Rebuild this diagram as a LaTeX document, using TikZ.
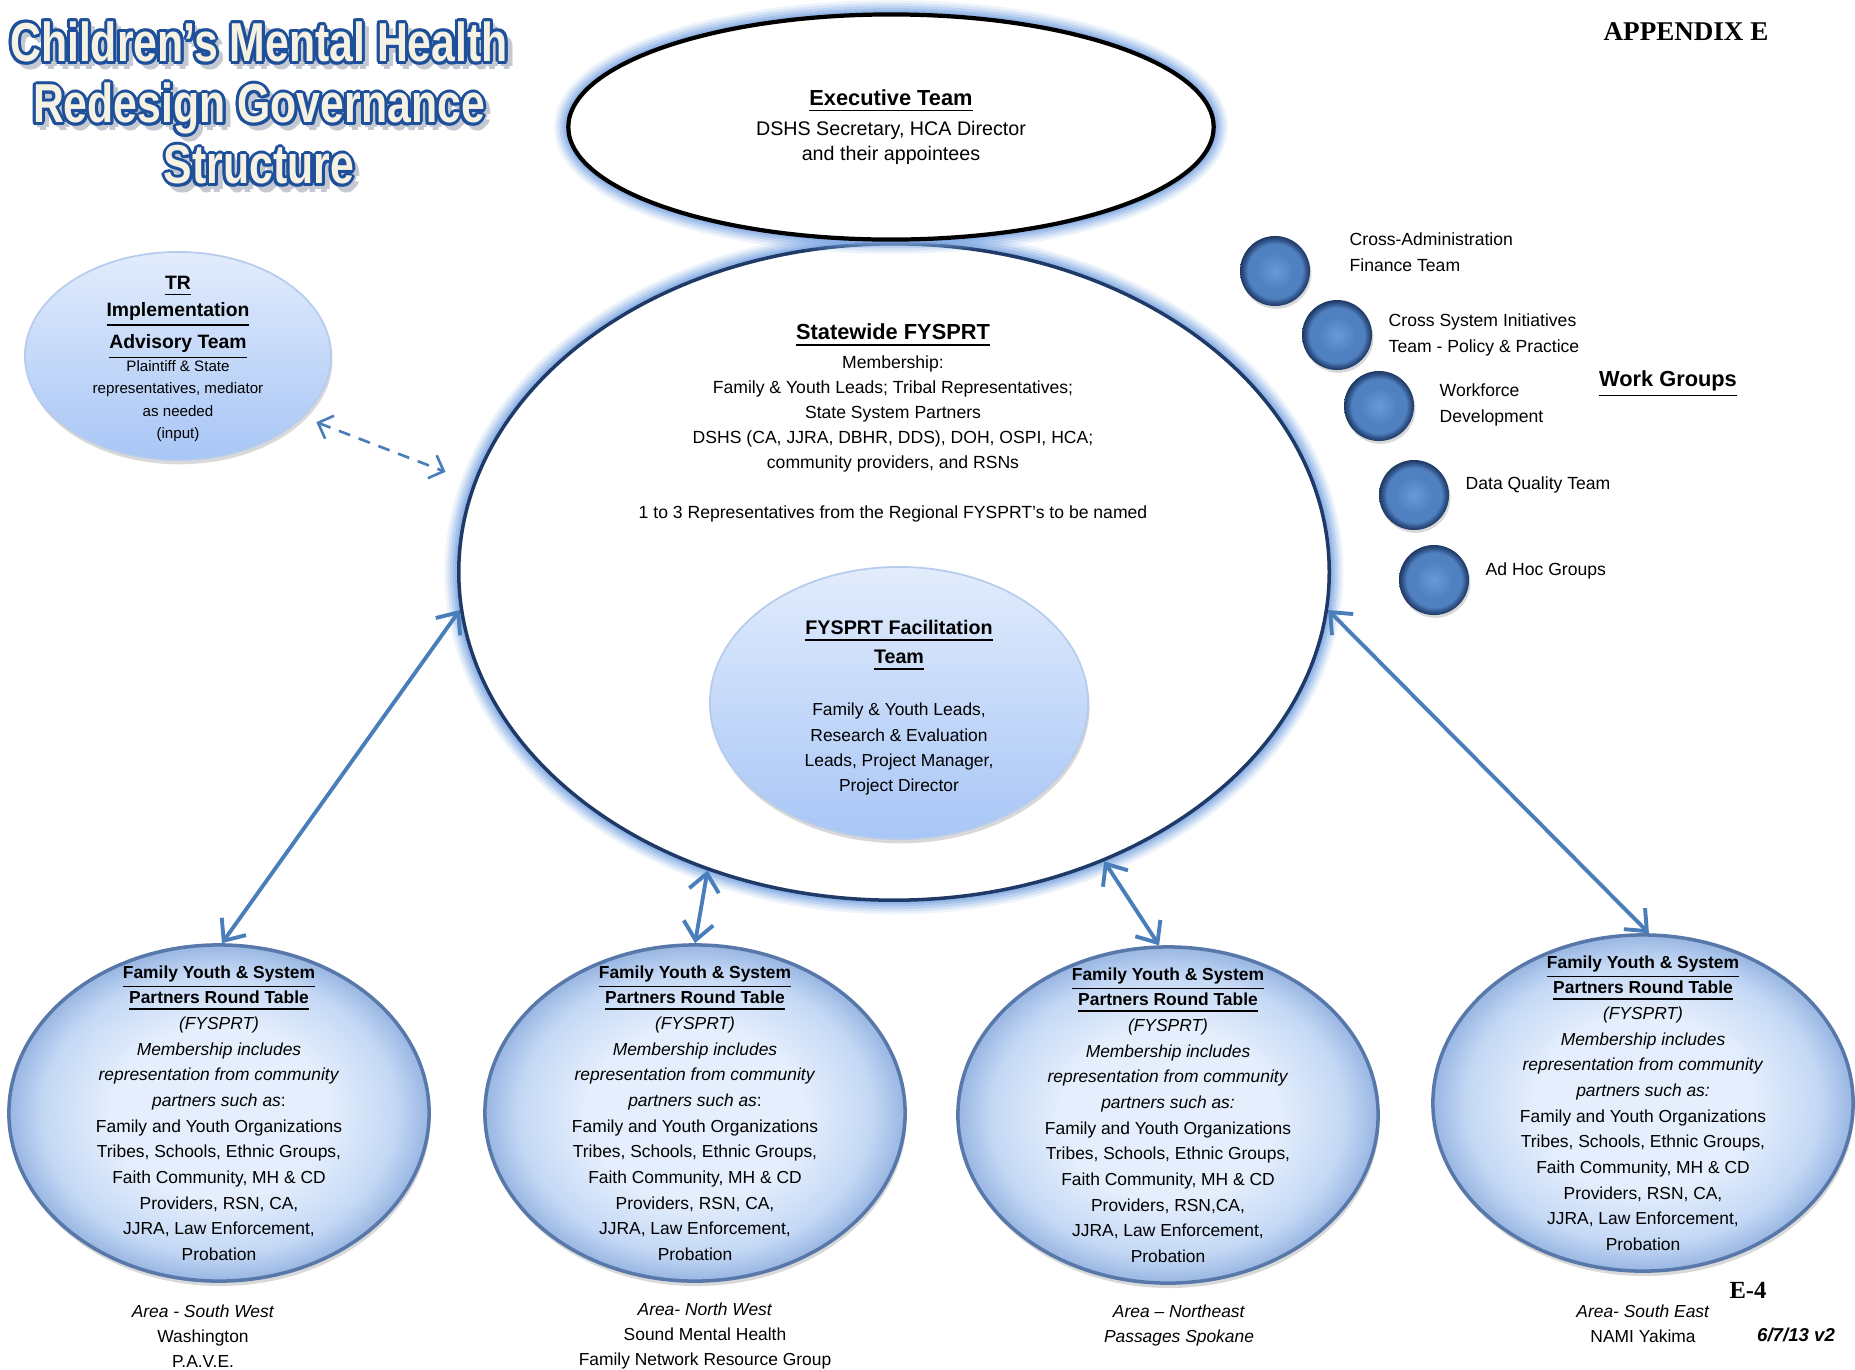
\documentclass[tikz,border=0pt]{standalone}
\usepackage{fontspec}
\setmainfont{Liberation Sans}
\newfontfamily\titlefont[FakeStretch=0.78]{Liberation Sans}
\newfontfamily\serifbold{Liberation Serif}
\usetikzlibrary{arrows.meta,positioning,shapes.geometric,shadows}

\definecolor{titleblue}{HTML}{1D4F9A}
\definecolor{cream}{HTML}{F6F2E3}
\definecolor{titleshadow}{HTML}{C4C8D0}
\definecolor{arrowblue}{HTML}{4A7EBB}
\definecolor{statenavy}{HTML}{1F3A66}
\definecolor{glowblue}{HTML}{7FA9E3}
\definecolor{rtin}{HTML}{E4EEFC}
\definecolor{rtmid}{HTML}{C4D8F5}
\definecolor{rtout}{HTML}{98B6E2}
\definecolor{rtedge}{HTML}{5878AA}
\definecolor{fyhi}{HTML}{E2ECFC}
\definecolor{fylo}{HTML}{A8C6F6}
\definecolor{fyedge}{HTML}{B7CCEC}
\definecolor{ballhi}{HTML}{6A99D6}
\definecolor{ballmid}{HTML}{4F81C1}
\definecolor{ballrim}{HTML}{32548A}
\definecolor{balldk}{HTML}{1C3862}

\pgfdeclareradialshading{rtshade}{\pgfpoint{0bp}{0bp}}{color(0bp)=(rtin);color(13bp)=(rtin);color(21bp)=(rtmid);color(25bp)=(rtout);color(50bp)=(rtout)}
\pgfdeclareradialshading{ballshade}{\pgfpoint{0bp}{0bp}}{color(0bp)=(ballhi);color(13bp)=(ballmid);color(19.5bp)=(ballmid);color(22.5bp)=(ballrim);color(25bp)=(balldk);color(50bp)=(balldk)}

\newcommand\cmhlines{Children’s Mental Health\\Redesign Governance\\Structure}
% #1: colon after "partners such as", #2: RSN/CA part
\newcommand\fysprtbody[2]{\textbf{\underline{Family Youth \& System}}\\
\textbf{\underline{Partners Round Table}}\\
\textit{(FYSPRT)}\\
\textit{Membership includes}\\
\textit{representation from community}\\
\textit{partners such as}#1\\
Family and Youth Organizations\\
Tribes, Schools, Ethnic Groups,\\
Faith Community, MH \& CD\\
Providers, #2\\
JJRA, Law Enforcement,\\
Probation}

\begin{document}
\begin{tikzpicture}[x=0.01cm,y=-0.01cm,
glow/.style={preaction={draw=#1,line width=8pt,draw opacity=.14},
  preaction={draw=#1,line width=6.5pt,draw opacity=.2},
  preaction={draw=#1,line width=5pt,draw opacity=.28},
  preaction={draw=#1,line width=3.5pt,draw opacity=.38},
  preaction={draw=#1,line width=2.2pt,draw opacity=.5}},
cmhtitle/.style={align=center,inner sep=0pt,font=\titlefont\fontsize{15.6}{17.4}\selectfont\bfseries},
softoval/.style={ellipse,draw=fyedge,line width=.5pt,top color=fyhi,bottom color=fylo,inner sep=0pt,
  drop shadow={opacity=.3,shadow xshift=.4pt,shadow yshift=-1.2pt}},
roundtable/.style={ellipse,draw=rtedge,line width=1pt,shading=rtshade,minimum width=4.2cm,minimum height=3.36cm,
  drop shadow={opacity=.3,shadow xshift=.4pt,shadow yshift=-1.4pt}},
rttext/.style={align=center,inner sep=0pt,font=\fontsize{4.95}{7.3}\selectfont},
area/.style={align=center,inner sep=0pt,font=\fontsize{4.95}{7.1}\selectfont},
wgball/.style={circle,shading=ballshade,minimum size=.7cm,inner sep=0pt,
  drop shadow={opacity=.3,shadow xshift=.4pt,shadow yshift=-.8pt}},
wglabel/.style={anchor=west,align=left,inner sep=0pt,font=\fontsize{5}{7.4}\selectfont},
link/.style={draw=arrowblue,line width=1.1pt,<->,>={Straight Barb[length=5pt,width=8.5pt]}},
dashlink/.style={draw=arrowblue,line width=.75pt,dash pattern=on 3.4pt off 2.6pt,<->,>={Straight Barb[length=3.5pt,width=7pt]}}]
\useasboundingbox (0,0) rectangle (1855,1369);

% outlined title
\foreach \a in {0,90,...,270}
  \node[cmhtitle,text=titleshadow,shift={(1.3pt,-1.5pt)},shift={(\a:.85pt)}] at (259,103) {\cmhlines};
\foreach \a in {0,30,...,330}
  \node[cmhtitle,text=titleblue,shift={(\a:.85pt)}] at (259,103) {\cmhlines};
\node[cmhtitle,text=cream] (title) at (259,103) {\cmhlines};

\node[inner sep=0pt,font=\serifbold\bfseries\fontsize{7.7}{9}\selectfont] (appendix) at (1686,32) {APPENDIX E};

\node[ellipse,glow=glowblue,fill=white,draw=statenavy,line width=1pt,minimum width=8.7cm,minimum height=6.56cm] (state) at (894,572) {};
\node[ellipse,glow=glowblue,fill=white,draw=black,line width=1.2pt,minimum width=6.45cm,minimum height=2.25cm,
  align=center,inner sep=0pt,font=\fontsize{5.6}{7.1}\selectfont] (exec) at (891,127)
  {{\fontsize{6.2}{7.2}\selectfont\bfseries\underline{Executive Team}}\\[1.4pt]
   DSHS Secretary, HCA Director\\
   and their appointees};

\node[align=center,inner sep=0pt,font=\fontsize{5}{7.1}\selectfont] (statetxt) at (893,423)
  {{\fontsize{6.2}{7.2}\selectfont\bfseries\underline{Statewide FYSPRT}}\\[1.1pt]
   Membership:\\
   Family \& Youth Leads; Tribal Representatives;\\
   State System Partners\\
   DSHS (CA, JJRA, DBHR, DDS), DOH, OSPI, HCA;\\
   community providers, and RSNs\\[7.1pt]
   1 to 3 Representatives from the Regional FYSPRT’s to be named};

\node[softoval,minimum width=3.78cm,minimum height=2.72cm] (facil) at (899,703) {};
\node[align=center,inner sep=0pt,font=\fontsize{4.95}{7.2}\selectfont] (faciltxt) at (899,708)
  {{\fontsize{5.6}{7.2}\selectfont\bfseries\underline{FYSPRT Facilitation}}\\[1pt]
   {\fontsize{5.6}{7.2}\selectfont\bfseries\underline{Team}}\\[7.6pt]
   Family \& Youth Leads,\\
   Research \& Evaluation\\
   Leads, Project Manager,\\
   Project Director};

\node[softoval,minimum width=3.06cm,minimum height=2.08cm] (tr) at (178,356) {};
\node[align=center,inner sep=0pt,font=\fontsize{4.3}{6.4}\selectfont] (trtxt) at (178,359)
  {{\fontsize{5.5}{7}\selectfont\bfseries\underline{TR}}\\[1.1pt]
   {\fontsize{5.5}{7}\selectfont\bfseries\underline{Implementation}}\\[1.1pt]
   {\fontsize{5.5}{7}\selectfont\bfseries\underline{Advisory Team}}\\
   Plaintiff \& State\\
   representatives, mediator\\
   as needed\\
   (input)};

\node[roundtable] (sw) at (219,1113) {};
\node[roundtable] (nw) at (695,1113) {};
\node[roundtable] (ne) at (1168,1115) {};
\node[roundtable] (se) at (1643,1103) {};
\node[rttext] (swtxt) at (sw.center) {\fysprtbody{:}{RSN, CA,}};
\node[rttext] (nwtxt) at (nw.center) {\fysprtbody{:}{RSN, CA,}};
\node[rttext] (netxt) at (ne.center) {\fysprtbody{\textit{:}}{RSN,CA,}};
\node[rttext] (setxt) at (se.center) {\fysprtbody{\textit{:}}{RSN, CA,}};

\node[area] (swarea) at (203,1336) {\textit{Area - South West}\\Washington\\P.A.V.E.};
\node[area] (nwarea) at (705,1336) {\textit{Area- North West}\\Sound Mental Health\\Family Network Resource Group};
\node[area] (nearea) at (1179,1325) {\textit{Area – Northeast}\\\textit{Passages Spokane}};
\node[area] (searea) at (1643,1324) {\textit{Area- South East}\\NAMI Yakima};

\node[wgball] (wg1) at (1275,271) {};
\node[wgball] (wg2) at (1337,335) {};
\node[wgball] (wg3) at (1379,406) {};
\node[wgball] (wg4) at (1414,495) {};
\node[wgball] (wg5) at (1434,580) {};
\node[wglabel] (wg1txt) at (1349,252) {Cross-Administration\\Finance Team};
\node[wglabel] (wg2txt) at (1388,335) {Cross System Initiatives\\Team - Policy \& Practice};
\node[wglabel] (wg3txt) at (1439,405) {Workforce\\Development};
\node[wglabel] (wg4txt) at (1465,485) {Data Quality Team};
\node[wglabel] (wg5txt) at (1485,571) {Ad Hoc Groups};
\node[inner sep=0pt,font=\fontsize{6.2}{7.2}\selectfont\bfseries] (wgtitle) at (1668,384) {\underline{Work Groups}};

\draw[dashlink,shorten <=4pt,shorten >=8.5pt] (tr.-26) -- (state.168);
\draw[link] (state.185) -- (sw.89);
\draw[link] (state.238) -- (nw.90);
\draw[link] (state.306) -- (ne.93);
\draw[link] (state.355) -- (se.88);

\node[inner sep=0pt,font=\serifbold\bfseries\fontsize{7}{8}\selectfont] (pageno) at (1748,1290) {E-4};
\node[inner sep=0pt,font=\fontsize{5.3}{6}\selectfont\bfseries\itshape] (version) at (1796,1335) {6/7/13 v2};
\end{tikzpicture}
\end{document}
